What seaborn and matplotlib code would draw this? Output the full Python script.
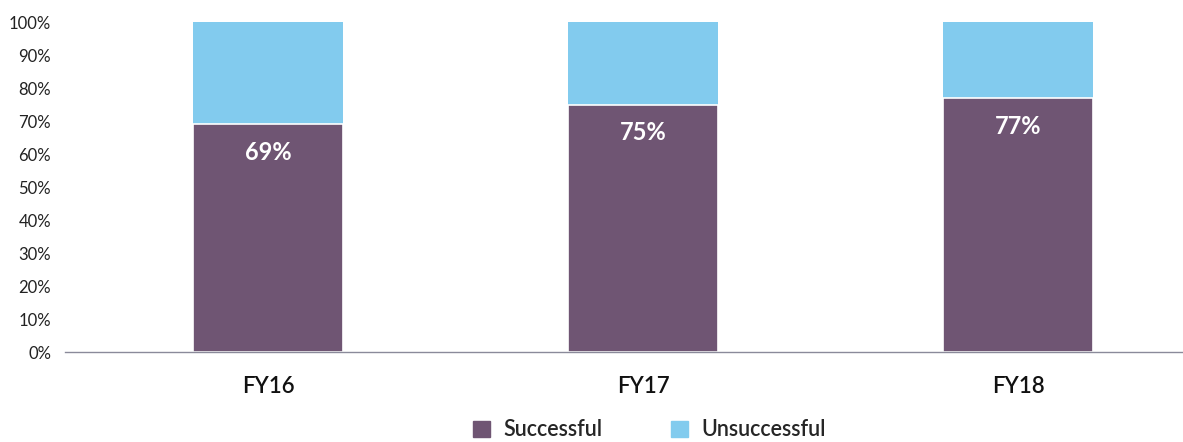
import numpy as np
import pandas as pd
import matplotlib
matplotlib.use("Agg")
import matplotlib.pyplot as plt
import seaborn as sns
from matplotlib.patches import Patch

# data
years = ["FY16", "FY17", "FY18"]
successful = [69, 75, 77]
unsuccessful = [31, 25, 23]

purple = "#6F5573"
blue = "#82CBEE"

sns.set_style("white")
plt.rcParams["font.family"] = ["Lato", "DejaVu Sans"]

df = pd.DataFrame({"year": years, "successful": successful,
                   "unsuccessful": unsuccessful})
df["total"] = df["successful"] + df["unsuccessful"]

fig = plt.figure(figsize=(11.83, 4.42), dpi=100)
ax = fig.add_axes([0.055, 0.2036, 0.945, 0.7464])

# stacked: total (blue) under, successful (purple) on top
sns.barplot(data=df, x="year", y="total", color=blue, width=0.4,
            saturation=1, ax=ax, edgecolor="none")
sns.barplot(data=df, x="year", y="successful", color=purple, width=0.4,
            saturation=1, ax=ax, edgecolor="white", linewidth=1.2)

for i, v in enumerate(successful):
    ax.text(i, v - 8.5, f"{v}%", ha="center", va="center", color="white",
            fontsize=17, fontweight="bold")

ax.set_ylim(0, 100)
ax.set_xlim(-0.542, 2.44)
ax.set_yticks(np.arange(0, 101, 10))
ax.set_yticklabels([f"{t}%" for t in range(0, 101, 10)], fontsize=12,
                   color="#222222")
ax.set_xticks(range(len(years)))
ax.set_xticklabels(years, fontsize=16, color="#111111", fontweight="semibold")
ax.tick_params(axis="x", length=0, pad=17)
ax.tick_params(axis="y", length=0, pad=10)
ax.set_xlabel("")
ax.set_ylabel("")
for s in ["top", "right", "left"]:
    ax.spines[s].set_visible(False)
ax.spines["bottom"].set_color("#8a8a9a")
ax.spines["bottom"].set_linewidth(1)

handles = [Patch(color=purple, label="Successful"),
           Patch(color=blue, label="Unsuccessful")]
fig.legend(handles=handles, loc="lower center", ncol=2, frameon=False,
           bbox_to_anchor=(0.549, -0.04), handlelength=0.8,
           handleheight=0.8, columnspacing=3.2, handletextpad=0.6,
           prop={"size": 15.5, "weight": "semibold"})

fig.savefig("out.png", dpi=100)
